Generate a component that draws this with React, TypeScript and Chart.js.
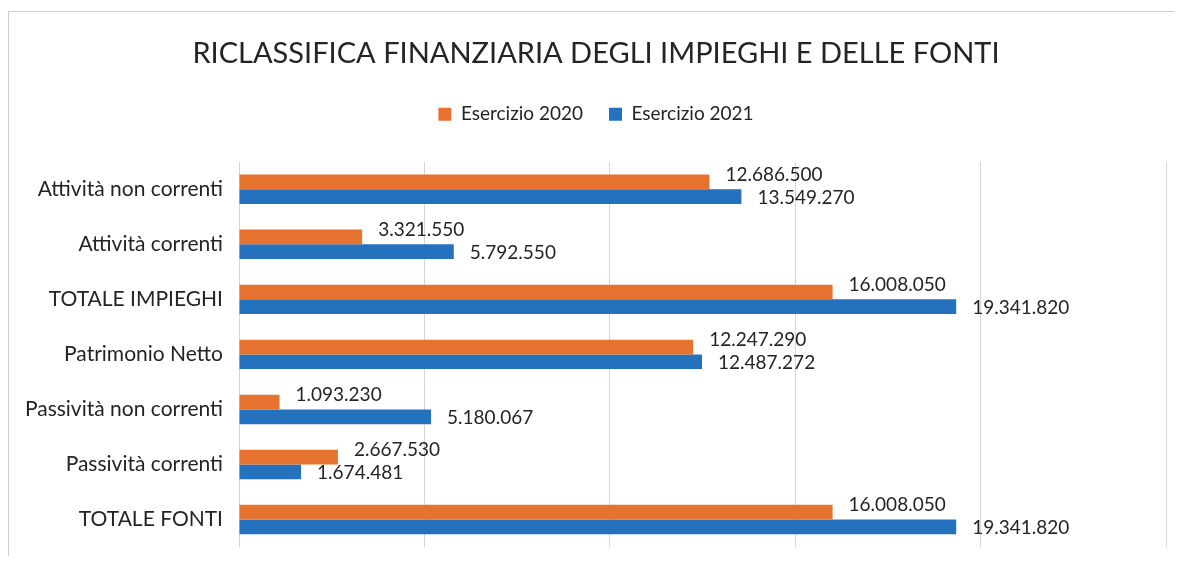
import React, { useEffect, useRef } from "react";
import { Chart, registerables } from "chart.js";

Chart.register(...registerables);

const chartTitle = "RICLASSIFICA FINANZIARIA DEGLI IMPIEGHI E DELLE FONTI";
const categories = [
  "Attività non correnti",
  "Attività correnti",
  "TOTALE IMPIEGHI",
  "Patrimonio Netto",
  "Passività non correnti",
  "Passività correnti",
  "TOTALE FONTI",
];
const seriesNames = ["Esercizio 2020", "Esercizio 2021"];
const esercizio2020 = [12686500, 3321550, 16008050, 12247290, 1093230, 2667530, 16008050];
const esercizio2021 = [13549270, 5792550, 19341820, 12487272, 5180067, 1674481, 19341820];
const axisMin = 0;
const axisMax = 25000000;
const axisStep = 5000000;

const FONT = "Lato, 'Open Sans', sans-serif";
const ORANGE = "#E5722F";
const BLUE = "#2472BD";
const TEXT = "#242424";

const fmt = (v: number) => String(v).replace(/\B(?=(\d{3})+(?!\d))/g, ".");

const valueLabels = {
  id: "valueLabels",
  afterDatasetsDraw(chart: any) {
    const ctx = chart.ctx;
    ctx.save();
    ctx.font = `19px ${FONT}`;
    ctx.fillStyle = TEXT;
    ctx.textBaseline = "middle";
    ctx.textAlign = "left";
    chart.data.datasets.forEach((ds: any, i: number) => {
      const meta = chart.getDatasetMeta(i);
      meta.data.forEach((el: any, j: number) => {
        ctx.fillText(fmt(ds.data[j]), el.x + 16, el.y + (i === 0 ? -7 : 1));
      });
    });
    ctx.restore();
  },
};

const legendGap = {
  id: "legendGap",
  beforeInit(chart: any) {
    const legend = chart.legend;
    if (!legend) return;
    const orig = legend.fit;
    legend.fit = function () {
      orig.call(this);
      this.height += 28;
    };
  },
};

export default function App() {
  const ref = useRef<HTMLCanvasElement | null>(null);

  useEffect(() => {
    let chart: Chart | null = null;
    let cancelled = false;
    const make = () => {
      if (cancelled || !ref.current) return;
      chart = new Chart(ref.current, {
        type: "bar",
        data: {
          labels: categories,
          datasets: [
            { label: seriesNames[0], data: esercizio2020, backgroundColor: ORANGE, borderWidth: 0 },
            { label: seriesNames[1], data: esercizio2021, backgroundColor: BLUE, borderWidth: 0 },
          ],
        },
        options: {
          indexAxis: "y",
          animation: false,
          responsive: false,
          maintainAspectRatio: false,
          datasets: { bar: { categoryPercentage: 0.535, barPercentage: 1 } },
          layout: { padding: { left: 17, right: 8, top: 0, bottom: 9 } },
          scales: {
            x: {
              min: axisMin,
              max: axisMax,
              ticks: { display: false, stepSize: axisStep },
              grid: { color: "#d6d6d6", lineWidth: 1, drawTicks: false },
              border: { display: false },
              afterFit: (scale: any) => {
                scale.height = 0;
                scale.paddingLeft = 0;
                scale.paddingRight = 0;
              },
            },
            y: {
              ticks: { color: TEXT, font: { family: FONT, size: 21 }, padding: 16 },
              grid: { display: false, drawTicks: false },
              border: { display: false },
              afterFit: (scale: any) => {
                scale.width = 213;
                scale.paddingTop = 0;
                scale.paddingBottom = 0;
              },
            },
          },
          plugins: {
            title: {
              display: true,
              text: chartTitle,
              color: TEXT,
              font: { family: FONT, size: 29, weight: "normal" },
              padding: { top: 24, bottom: 8 },
            },
            legend: {
              display: true,
              position: "top",
              labels: {
                color: TEXT,
                font: { family: FONT, size: 19 },
                boxWidth: 13,
                boxHeight: 13,
                padding: 26,
              },
            },
            tooltip: { enabled: false },
          },
        },
        plugins: [valueLabels, legendGap],
      } as any);
    };
    const fonts: any = (document as any).fonts;
    if (fonts && fonts.load) {
      Promise.all([fonts.load(`19px Lato`), fonts.load(`29px Lato`)]).then(make, make);
    } else {
      make();
    }
    return () => {
      cancelled = true;
      if (chart) chart.destroy();
    };
  }, []);

  return (
    <div
      style={{
        marginTop: 3,
        width: 1166,
        height: 545,
        borderTop: "1px solid #cfcfcf",
        borderLeft: "1px solid #cfcfcf",
        boxSizing: "border-box",
        background: "#fff",
      }}
    >
      <canvas ref={ref} width={1165} height={544} style={{ display: "block" }} />
    </div>
  );
}
